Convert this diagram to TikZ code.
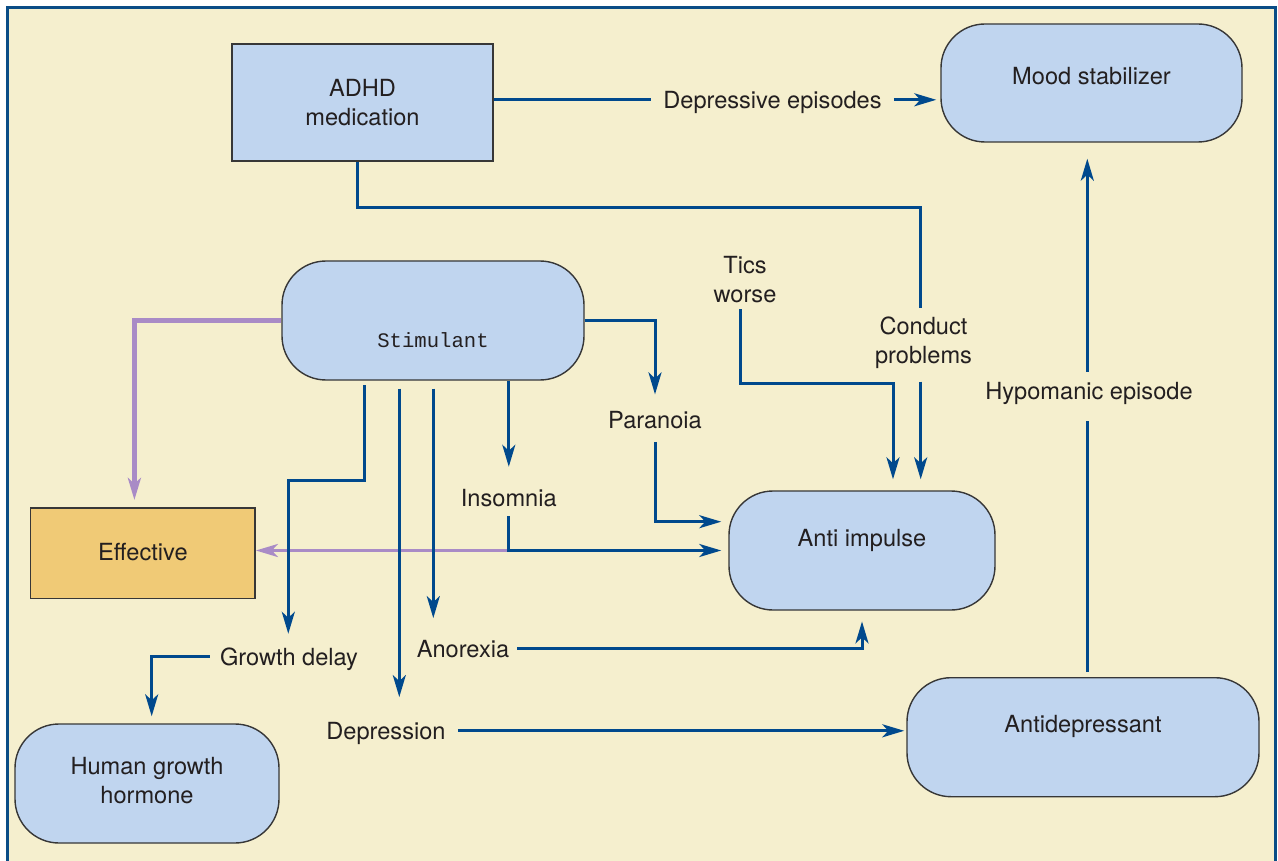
\documentclass[tikz,border=0pt]{standalone}
\usepackage{fontspec}
\setmainfont{TeX Gyre Heros}
\newfontfamily\monof{Liberation Mono}
\usetikzlibrary{arrows.meta,calc}
\definecolor{bgc}{RGB}{245,239,206}
\definecolor{frameblue}{RGB}{10,77,134}
\definecolor{ablue}{RGB}{0,73,141}
\definecolor{nodeblue}{RGB}{192,213,239}
\definecolor{effc}{RGB}{240,202,118}
\definecolor{purp}{RGB}{169,139,198}
\definecolor{bordergray}{RGB}{55,55,55}
\definecolor{txt}{RGB}{35,31,32}
\newcommand{\fs}{\fontsize{23.6}{29}\selectfont}
\tikzset{
  con/.style={draw=ablue, line width=3pt},
  arr/.style={con, -{Stealth[length=22pt,width=13pt,inset=6pt]}},
  parr/.style={draw=purp, line width=3pt, -{Stealth[length=22pt,width=13pt,inset=6pt]}},
  sbox/.style={draw=bordergray, line width=1.4pt, fill=nodeblue, inner sep=0pt, text=txt, font=\fs},
  rbox/.style={sbox, rounded corners=44pt},
  lbl/.style={font=\fs, text=txt, inner sep=0pt, text height=17pt, text depth=0pt, anchor=base},
  mlbl/.style={font=\fs, text=txt, inner sep=0pt, align=center}
}
\begin{document}
\begin{tikzpicture}[x=1pt,y=-1pt]
\useasboundingbox (0,0) rectangle (1278,861);
\fill[white] (0,0) rectangle (1278,861);
\draw[fill=bgc, draw=frameblue, line width=3pt] (7.5,7.5) rectangle (1275.5,890);

% boxes
\node[sbox, minimum width=261pt, minimum height=117pt, align=center] (adhd) at (362.5,102.5) {ADHD\\medication};
\node[rbox, minimum width=301pt, minimum height=118pt, text height=10pt, text depth=7pt] (mood) at (1091.5,83) {Mood stabilizer};
\node[rbox, minimum width=302pt, minimum height=119pt, font=\monof\fontsize{20.6}{24}\selectfont, text height=54pt, text depth=0pt] (stim) at (433,320.5) {Stimulant};
\node[sbox, fill=effc, minimum width=224.5pt, minimum height=90.7pt, text height=13.4pt, text depth=0pt] (eff) at (142.9,553.3) {Effective};
\node[rbox, minimum width=266pt, minimum height=119pt, text height=8pt, text depth=17pt] (anti) at (862,550.5) {Anti impulse};
\node[rbox, minimum width=352pt, minimum height=119pt, text height=8pt, text depth=17.8pt] (antid) at (1083,737.2) {Antidepressant};
\node[rbox, minimum width=264pt, minimum height=119pt, align=center, text depth=6pt] (hgh) at (147,783.5) {Human growth\\hormone};

% labels
\node[lbl, inner xsep=12pt] (dep) at (772.5,108.3) {Depressive episodes};
\node[mlbl] (tics) at (745,280) {Tics\\worse};
\node[mlbl] (cond) at (923.5,342.5) {Conduct\\problems};
\node[lbl] (para) at (655,428.3) {Paranoia};
\node[lbl] (ins) at (508.8,506) {Insomnia};
\node[lbl] (hyp) at (1089,399.5) {Hypomanic episode};
\node[lbl] (grow) at (289,665) {Growth delay};
\node[lbl] (anor) at (463,657.3) {Anorexia};
\node[lbl] (depr) at (386,739.3) {Depression};

% connectors
\draw[con] (adhd.east |- dep.west) -- (dep.west);
\draw[arr, shorten >=4pt] (dep.east) -- (mood.west |- dep.east);
\draw[con, shorten >=8pt] ([xshift=-5.5pt]adhd.south) -- ++(0,46) -| ([xshift=-2.8pt]cond.north);
\draw[arr, shorten <=13pt, shorten >=11pt] ([xshift=-2.8pt]cond.south) -- ([xshift=-2.8pt]cond.south |- anti.north);
\draw[arr, shorten <=6pt, shorten >=11pt] ([xshift=-5pt]tics.south) -- ++(0,80.3) -| ([xshift=31pt]anti.north);
\draw[arr, shorten >=16.7pt] (stim.east) -| (para.north);
\draw[arr, shorten <=13.4pt, shorten >=7pt] (para.south) |- ([yshift=28.8pt]anti.west);
\draw[arr, shorten >=22pt] (stim.south -| ins.north) -- (ins.north);
\draw[parr] (ins.south |- anti.west) -- (eff.east |- anti.west);
\draw[arr, shorten <=10pt, shorten >=7pt] (ins.south) |- (anti.west);
\draw[parr, line width=4.2pt, shorten >=7.3pt] (stim.west) -| ([xshift=-8.5pt]eff.north);
\draw[arr, shorten <=4.5pt, shorten >=14pt] ([xshift=-69pt]stim.south) -- ++(0,100) -| ([xshift=-0.7pt]grow.north);
\draw[arr, shorten <=8pt, shorten >=25pt] ([xshift=-33.7pt]stim.south) -- ([xshift=-33.7pt]stim.south |- depr.north);
\draw[arr, shorten <=8pt, shorten >=22pt] ([xshift=0.3pt]stim.south) -- ([xshift=0.3pt]stim.south |- anor.north);
\draw[arr, shorten <=10pt, shorten >=7pt] (grow.west) -| ([xshift=4.7pt]hgh.north);
\draw[arr, shorten <=8pt, shorten >=10.7pt] (anor.east) -| (anti.south);
\draw[arr, shorten <=12pt, shorten >=2pt] (depr.east) -- (antid.west |- depr.east);
\draw[con, shorten <=5pt, shorten >=21.5pt] ([xshift=4.3pt]antid.north) -- ([xshift=4.3pt]antid.north |- hyp.south);
\draw[arr, shorten <=10.5pt, shorten >=16pt] ([xshift=-1.7pt]hyp.north) -- ([xshift=-1.7pt]hyp.north |- mood.south);
\end{tikzpicture}
\end{document}
